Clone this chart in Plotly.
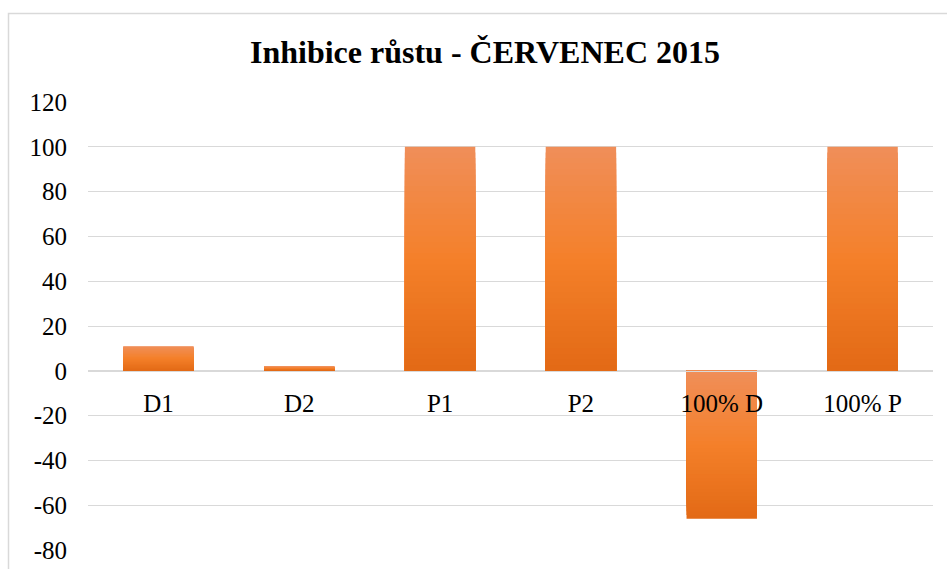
import plotly.graph_objects as go

# ---- data ----
categories = ["D1", "D2", "P1", "P2", "100% D", "100% P"]
values = [11, 2, 100, 100, -66, 100]
y_tick_vals = [-80, -60, -40, -20, 0, 20, 40, 60, 80, 100, 120]
y_tick_text = ["-80", "-60", "-40", "-20", "0", "20", "40", "60", "80", "100", "120"]
title_text = "Inhibice růstu - ČERVENEC 2015"

# ---- styling ----
Y_MIN, Y_MAX = -80, 120
W, H = 947, 569
ML, MR, MT, MB = 88, 14, 102, 19
FONT = "Liberation Serif, Times New Roman, serif"
GRID = "#d9d9d9"

# gradient stops (top -> middle -> bottom of each bar)
stops = [(240, 142, 88), (244, 128, 42), (227, 106, 22)]


def grad(t):
    if t <= 0.5:
        a, b, u = stops[0], stops[1], t / 0.5
    else:
        a, b, u = stops[1], stops[2], (t - 0.5) / 0.5
    return "rgb(%d,%d,%d)" % tuple(round(a[i] + (b[i] - a[i]) * u) for i in range(3))


N = 40
fig = go.Figure()
for k in range(N):
    frac = 1 - k / N
    ys = [v * frac for v in values]
    cols = []
    for v in values:
        t = k / (N - 1)
        cols.append(grad(t) if v >= 0 else grad(1 - t))
    fig.add_trace(go.Bar(
        x=categories, y=ys,
        marker=dict(color=cols, line=dict(width=0)),
        hoverinfo="skip" if k else "x+y",
        showlegend=False,
    ))

zero_pos = (0 - Y_MIN) / (Y_MAX - Y_MIN)
plot_w = W - ML - MR
plot_h = H - MT - MB

fig.update_layout(
    width=W, height=H,
    margin=dict(l=ML, r=MR, t=MT, b=MB, pad=0, autoexpand=False),
    paper_bgcolor="white", plot_bgcolor="white",
    barmode="overlay", bargap=0.5,
    font=dict(family=FONT, color="#000000", size=25),
    title=dict(
        text="<b>" + title_text + "</b>",
        font=dict(family=FONT, size=32, color="#000000"),
        x=485 / W, xref="container", xanchor="center",
        y=1 - 52 / H, yref="container", yanchor="middle",
    ),
    xaxis=dict(
        type="category",
        anchor="free", position=zero_pos,
        showline=True, linecolor=GRID, linewidth=1,
        showgrid=False, zeroline=False,
        ticks="outside", ticklen=10, tickcolor="rgba(0,0,0,0)",
        tickfont=dict(family=FONT, size=25, color="#000000"),
    ),
    yaxis=dict(
        range=[Y_MIN, Y_MAX],
        tickvals=y_tick_vals, ticktext=y_tick_text,
        showgrid=True, gridcolor=GRID, gridwidth=1,
        zeroline=False, showline=False,
        ticklabelstandoff=20,
        tickfont=dict(family=FONT, size=25, color="#000000"),
    ),
    shapes=[dict(
        type="rect", xref="paper", yref="paper",
        x0=(8.5 - ML) / plot_w, x1=1.2,
        y0=-0.2, y1=1 + (MT - 13.5) / plot_h,
        line=dict(color=GRID, width=1.5), fillcolor="rgba(0,0,0,0)", layer="below",
    )],
)

fig.write_html(
    "out.html",
    config={"displayModeBar": False},
    post_script="document.body.style.margin='0';document.body.style.overflow='hidden';",
)
